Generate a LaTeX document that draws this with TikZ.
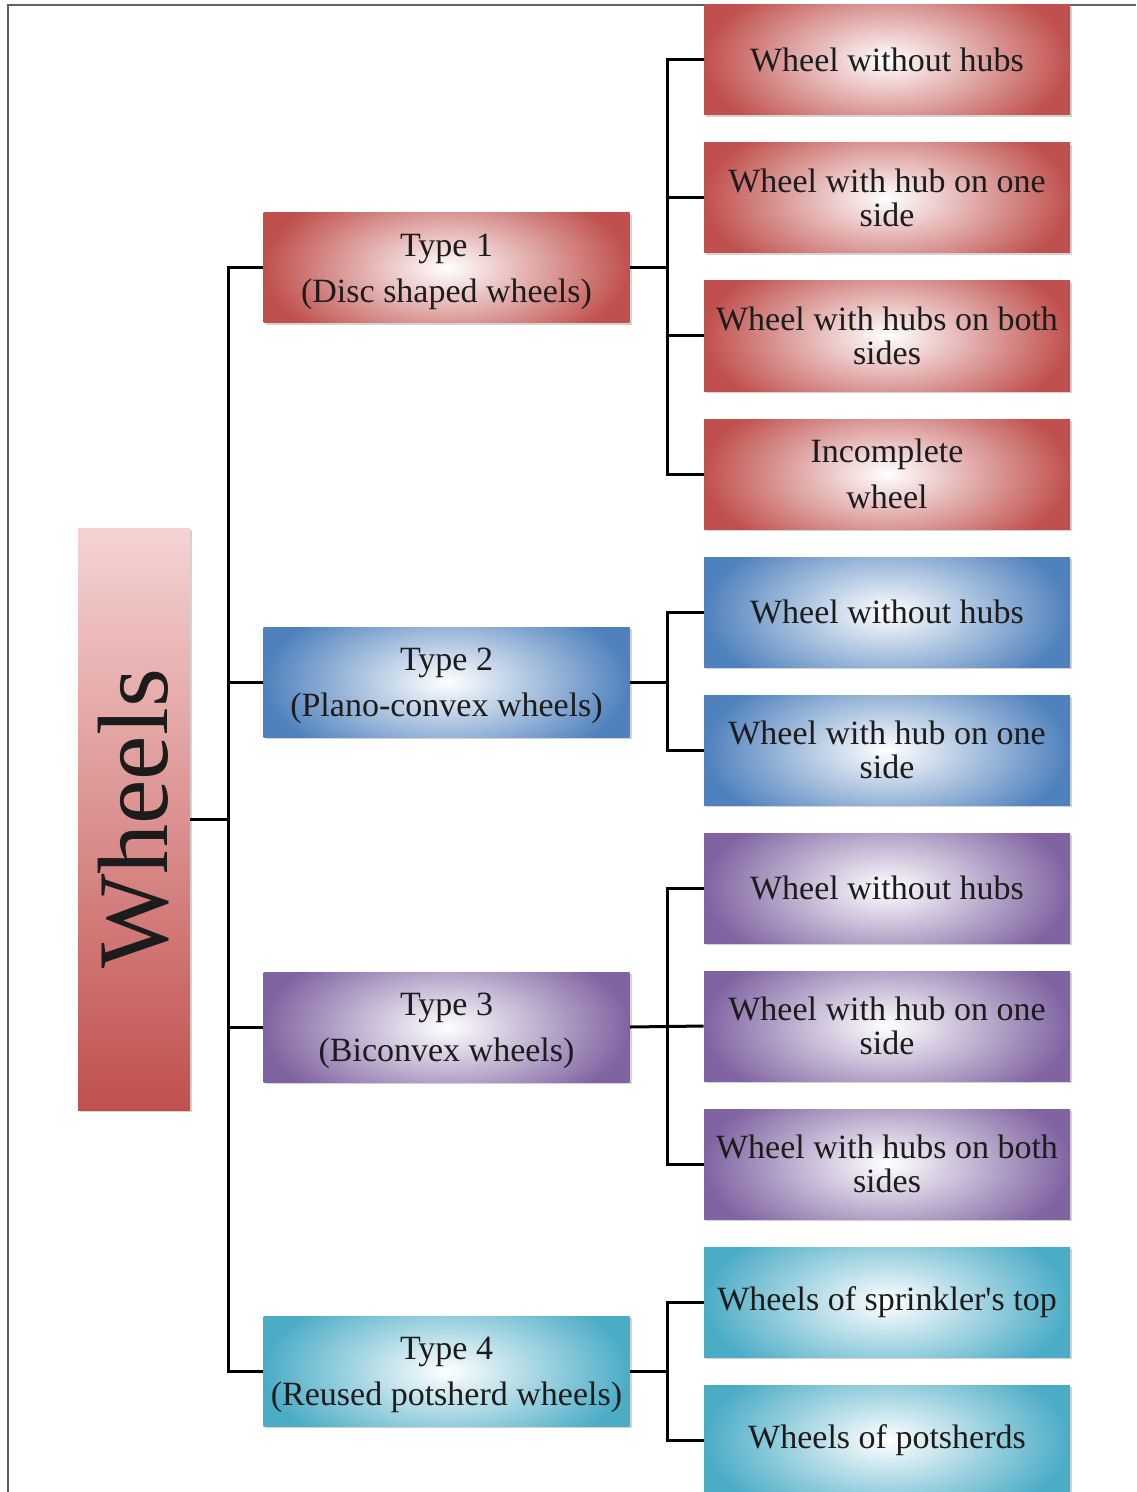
\documentclass[tikz,border=0pt]{standalone}
\usepackage{fontspec}
\usepackage{graphicx}
\setmainfont{Liberation Serif}
\usetikzlibrary{shadows,calc}
\definecolor{cred}{HTML}{C0504D}
\definecolor{cblue}{HTML}{4F81BD}
\definecolor{cpurp}{HTML}{8064A2}
\definecolor{ccyan}{HTML}{4BACC6}
\definecolor{cpink}{HTML}{F5D3D3}
\definecolor{txt}{HTML}{1C1C1C}
\definecolor{frame}{HTML}{606060}
\newcommand{\upstrut}{\rule{0pt}{15.6pt}}
\tikzset{
  box/.style={rectangle, minimum width=183pt, minimum height=55pt, inner sep=0pt,
    align=center, text=txt, font=\fontsize{17}{17}\selectfont,
    drop shadow={shadow xshift=1pt, shadow yshift=-1.2pt, opacity=0.35},
    path picture={\shade[inner color=white, outer color=#1]
      ($(path picture bounding box.south west)+(0,-18pt)$) rectangle
      ($(path picture bounding box.north east)+(0,18pt)$);}},
  conn/.style={line width=1.5pt, black},
}
\begin{document}
\begin{tikzpicture}[x=0.5pt,y=-0.5pt]
\useasboundingbox (0,0) rectangle (1136,1492);
\draw[frame, line width=1pt] (8,1492) -- (8,5) -- (1136,5);

% root
\node[rectangle, minimum width=56pt, minimum height=291pt, inner sep=0pt,
  top color=cpink, bottom color=cred,
  drop shadow={shadow xshift=1pt, shadow yshift=-1.2pt, opacity=0.35}] (W) at (134,819)
  {\rotatebox{90}{\fontsize{50}{50}\selectfont\color{txt}Wheels}};

% types
\node[box=cred]  (t1) at (446.5,268)  {\upstrut Type 1\\[6pt](Disc shaped wheels)};
\node[box=cblue] (t2) at (446.5,682)  {\upstrut Type 2\\[6pt](Plano-convex wheels)};
\node[box=cpurp] (t3) at (446.5,1027) {\upstrut Type 3\\[6pt](Biconvex wheels)};
\node[box=ccyan] (t4) at (446.5,1371) {\upstrut Type 4\\[6pt](Reused potsherd wheels)};

% leaves
\node[box=cred]  (l1)  at (887,60)   {Wheel without hubs};
\node[box=cred]  (l2)  at (887,198)  {Wheel with hub on one\\side};
\node[box=cred]  (l3)  at (887,336)  {Wheel with hubs on both\\sides};
\node[box=cred]  (l4)  at (887,474)  {Incomplete\\[6pt]wheel};
\node[box=cblue] (l5)  at (887,612)  {Wheel without hubs};
\node[box=cblue] (l6)  at (887,750)  {Wheel with hub on one\\side};
\node[box=cpurp] (l7)  at (887,888)  {Wheel without hubs};
\node[box=cpurp] (l8)  at (887,1026) {Wheel with hub on one\\side};
\node[box=cpurp] (l9)  at (887,1164) {Wheel with hubs on both\\sides};
\node[box=ccyan] (l10) at (887,1302) {Wheels of sprinkler\textquotesingle s top};
\node[box=ccyan] (l11) at (887,1440) {Wheels of potsherds};

\coordinate (tr) at (228,0);
\coordinate (br) at (667,0);

% root connectors
\draw[conn] (W.east) -- (tr |- W.east);
\draw[conn] (t1.west) -- (tr |- t1.west) -- (tr |- t4.west) -- (t4.west);
\draw[conn] (t2.west) -- (tr |- t2.west);
\draw[conn] (t3.west) -- (tr |- t3.west);

% type 1
\draw[conn] (t1.east) -- (br |- t1.east);
\draw[conn] (l1.west) -- (br |- l1.west) -- (br |- l4.west) -- (l4.west);
\draw[conn] (l2.west) -- (br |- l2.west);
\draw[conn] (l3.west) -- (br |- l3.west);
% type 2
\draw[conn] (t2.east) -- (br |- t2.east);
\draw[conn] (l5.west) -- (br |- l5.west) -- (br |- l6.west) -- (l6.west);
% type 3
\draw[conn] (t3.east) -- (l8.west);
\draw[conn] (l7.west) -- (br |- l7.west) -- (br |- l9.west) -- (l9.west);
% type 4
\draw[conn] (t4.east) -- (br |- t4.east);
\draw[conn] (l10.west) -- (br |- l10.west) -- (br |- l11.west) -- (l11.west);
\end{tikzpicture}
\end{document}
